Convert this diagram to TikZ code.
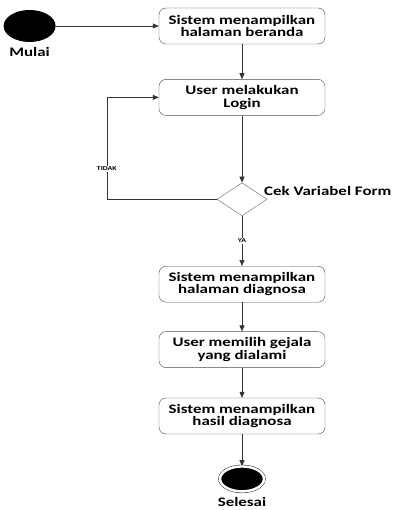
\documentclass[tikz,border=0pt]{standalone}
\usepackage{fontspec}
\setmainfont{Carlito}[FakeStretch=1.3]
\usetikzlibrary{shapes.geometric, arrows.meta, positioning}

\begin{document}
\begin{tikzpicture}[
    x=1pt, y=1pt,
    every node/.style={font=\fontsize{13}{12.5}\selectfont\bfseries},
    aktivitas/.style={
        rectangle,
        rounded corners=7pt,
        draw=black!70,
        align=center,
        minimum width=166pt,
        minimum height=36pt,
        inner sep=0pt
    },
    mulai/.style={
        ellipse,
        fill=black,
        minimum width=52pt,
        minimum height=32pt,
        inner sep=0pt
    },
    selesai/.style={
        ellipse,
        draw=black,
        fill=black,
        double=white,
        double distance=2.5pt,
        minimum width=44pt,
        minimum height=25pt,
        inner sep=0pt
    },
    keputusan/.style={
        diamond,
        draw=black!60,
        minimum width=50pt,
        minimum height=33pt,
        inner sep=0pt
    },
    ket/.style={
        font=\fontsize{6}{6}\selectfont\bfseries,
        fill=white,
        inner sep=1pt
    },
    arrow/.style={
        -{Triangle[length=6pt, width=5pt]},
        draw=black!80,
        line width=0.6pt
    }
]

\useasboundingbox (0,0) rectangle (394,-510);

\node[aktivitas] (beranda) at (242,-26) {Sistem menampilkan\\halaman beranda};
\node[mulai, left=103pt of beranda] (start) {};
\node[below=2pt of start] (lblmulai) {Mulai};
\node[aktivitas, below=35pt of beranda] (login) {User melakukan\\Login};
\node[keputusan, below=67pt of login] (cek) {};
\node[right=6pt of cek.north east] (lblcek) {Cek Variabel Form};
\node[aktivitas, below=50pt of cek] (diagnosa) {Sistem menampilkan\\halaman diagnosa};
\node[aktivitas, below=29pt of diagnosa] (gejala) {User memilih gejala\\yang dialami};
\node[aktivitas, below=30pt of gejala] (hasil) {Sistem menampilkan\\hasil diagnosa};
\node[selesai, below=32pt of hasil] (stop) {};
\node[below=2pt of stop] (lblselesai) {Selesai};

\coordinate[left=110pt of cek.west] (balik);

\draw[arrow] (start) -- (beranda);
\draw[arrow] (beranda) -- (login);
\draw[arrow] (login) -- (cek);
\draw[arrow] (cek.west) -- (balik) |- node[ket, pos=0.15] {TIDAK} (login.west);
\draw[arrow] (cek) -- node[ket] {YA} (diagnosa);
\draw[arrow] (diagnosa) -- (gejala);
\draw[arrow] (gejala) -- (hasil);
\draw[arrow] (hasil) -- (stop);

\end{tikzpicture}
\end{document}
